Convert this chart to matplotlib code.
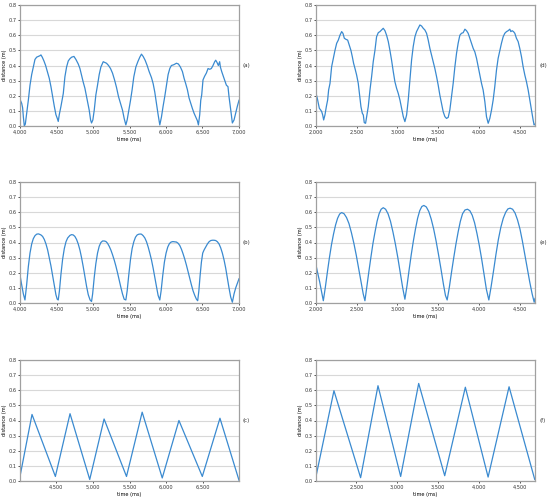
import matplotlib
matplotlib.use("Agg")
import matplotlib.pyplot as plt
from matplotlib.ticker import StrMethodFormatter, MultipleLocator

# ---------------- data ----------------
a_time = [4000, 4023, 4036, 4046, 4059, 4073, 4091, 4114, 4137, 4160,
          4182, 4205, 4228, 4251, 4274, 4287, 4305, 4328, 4351, 4374,
          4401, 4424, 4447, 4470, 4492, 4511, 4524, 4538, 4561, 4593,
          4615, 4638, 4661, 4684, 4707, 4739, 4766, 4798, 4821, 4843,
          4866, 4889, 4921, 4948, 4967, 4980, 4998, 5017, 5039, 5062,
          5085, 5108, 5140, 5163, 5185, 5213, 5240, 5267, 5295, 5322,
          5349, 5377, 5404, 5427, 5450, 5468, 5491, 5514, 5536, 5559,
          5587, 5614, 5641, 5664, 5687, 5714, 5742, 5769, 5801, 5824,
          5846, 5869, 5892, 5915, 5938, 5960, 5983, 6006, 6029, 6052,
          6074, 6106, 6143, 6170, 6197, 6225, 6248, 6270, 6293, 6316,
          6339, 6362, 6384, 6407, 6430, 6444, 6462, 6476, 6489, 6507,
          6530, 6553, 6576, 6599, 6621, 6644, 6667, 6681, 6699, 6717,
          6735, 6745, 6763, 6781, 6804, 6827, 6849, 6863, 6881, 6895,
          6909, 6932, 6954, 6977, 7000]
a_dist = [0.176, 0.15, 0.12, 0.06, 0.0, 0.013, 0.08, 0.17, 0.27, 0.34,
          0.39, 0.44, 0.455, 0.46, 0.465, 0.47, 0.455, 0.43, 0.40, 0.36,
          0.315, 0.26, 0.195, 0.13, 0.075, 0.05, 0.03, 0.075, 0.13, 0.215,
          0.325, 0.39, 0.43, 0.445, 0.455, 0.46, 0.44, 0.41, 0.38, 0.335,
          0.29, 0.25, 0.17, 0.105, 0.04, 0.02, 0.04, 0.105, 0.205, 0.27,
          0.34, 0.39, 0.425, 0.42, 0.415, 0.40, 0.38, 0.35, 0.305, 0.255,
          0.195, 0.15, 0.105, 0.05, 0.007, 0.04, 0.105, 0.17, 0.24, 0.325,
          0.39, 0.425, 0.455, 0.475, 0.46, 0.435, 0.40, 0.36, 0.32, 0.28,
          0.225, 0.15, 0.075, 0.007, 0.06, 0.13, 0.195, 0.27, 0.34, 0.38,
          0.40, 0.405, 0.415, 0.41, 0.39, 0.36, 0.315, 0.28, 0.24, 0.185,
          0.15, 0.115, 0.085, 0.06, 0.035, 0.007, 0.075, 0.17, 0.205, 0.305,
          0.33, 0.35, 0.38, 0.375, 0.38, 0.40, 0.425, 0.435, 0.42, 0.40,
          0.425, 0.39, 0.36, 0.335, 0.305, 0.27, 0.26, 0.195, 0.13, 0.075,
          0.02, 0.04, 0.085, 0.13, 0.17]

b_time = [4000, 4023, 4046, 4068, 4091, 4114, 4137, 4160, 4182, 4205,
          4228, 4251, 4264, 4287, 4310, 4333, 4356, 4379, 4401, 4424,
          4447, 4470, 4492, 4510, 4524, 4540, 4561, 4584, 4607, 4630,
          4653, 4684, 4707, 4729, 4752, 4775, 4798, 4821, 4843, 4866,
          4889, 4912, 4935, 4960, 4980, 4995, 5017, 5039, 5062, 5085,
          5108, 5131, 5154, 5176, 5199, 5222, 5245, 5267, 5290, 5313,
          5336, 5359, 5381, 5404, 5427, 5450, 5468, 5491, 5514, 5536,
          5559, 5582, 5605, 5628, 5650, 5664, 5687, 5710, 5733, 5756,
          5778, 5801, 5824, 5846, 5869, 5892, 5915, 5933, 5955, 5978,
          6001, 6024, 6047, 6070, 6093, 6115, 6143, 6166, 6189, 6212,
          6234, 6257, 6280, 6303, 6325, 6348, 6371, 6394, 6417, 6434,
          6450, 6467, 6485, 6503, 6521, 6544, 6567, 6590, 6613, 6636,
          6658, 6681, 6704, 6727, 6749, 6772, 6795, 6818, 6840, 6863,
          6886, 6909, 6932, 6955, 6977, 7000]
b_dist = [0.185, 0.12, 0.06, 0.02, 0.12, 0.24, 0.33, 0.39, 0.425, 0.445,
          0.455, 0.457, 0.455, 0.45, 0.44, 0.42, 0.39, 0.35, 0.30, 0.245,
          0.18, 0.115, 0.055, 0.025, 0.02, 0.08, 0.19, 0.29, 0.36, 0.405,
          0.43, 0.447, 0.452, 0.45, 0.44, 0.42, 0.39, 0.35, 0.30, 0.24,
          0.175, 0.11, 0.055, 0.02, 0.01, 0.06, 0.17, 0.26, 0.33, 0.375,
          0.40, 0.41, 0.41, 0.407, 0.395, 0.375, 0.35, 0.32, 0.285, 0.245,
          0.20, 0.15, 0.105, 0.06, 0.025, 0.02, 0.08, 0.19, 0.29, 0.36,
          0.405, 0.435, 0.45, 0.455, 0.456, 0.455, 0.445, 0.43, 0.405, 0.37,
          0.33, 0.285, 0.23, 0.17, 0.11, 0.05, 0.02, 0.08, 0.18, 0.27,
          0.33, 0.37, 0.393, 0.403, 0.406, 0.405, 0.403, 0.395, 0.38, 0.355,
          0.325, 0.29, 0.25, 0.205, 0.16, 0.12, 0.08, 0.05, 0.025, 0.015,
          0.08, 0.18, 0.27, 0.33, 0.35, 0.37, 0.39, 0.405, 0.413, 0.415,
          0.415, 0.413, 0.405, 0.39, 0.365, 0.33, 0.285, 0.23, 0.165, 0.10,
          0.04, 0.005, 0.06, 0.10, 0.13, 0.16]

c_time = [4005, 4169, 4488, 4688, 4957, 5153, 5459, 5673, 5947, 6175, 6494, 6735, 6995]
c_dist = [0.03, 0.44, 0.03, 0.445, 0.01, 0.41, 0.03, 0.455, 0.02, 0.40, 0.03, 0.415, 0.005]

d_time = [2000, 2016, 2029, 2041, 2057, 2070, 2082, 2094, 2110, 2127,
          2143, 2155, 2172, 2192, 2213, 2233, 2254, 2274, 2294, 2315,
          2331, 2348, 2368, 2389, 2409, 2429, 2446, 2462, 2479, 2499,
          2519, 2536, 2552, 2569, 2581, 2593, 2609, 2626, 2642, 2663,
          2683, 2703, 2724, 2744, 2765, 2785, 2806, 2826, 2847, 2867,
          2888, 2908, 2928, 2949, 2969, 2990, 3010, 3031, 3051, 3072,
          3092, 3113, 3133, 3153, 3174, 3194, 3215, 3235, 3256, 3276,
          3297, 3317, 3337, 3358, 3378, 3399, 3419, 3440, 3460, 3481,
          3501, 3521, 3542, 3562, 3583, 3603, 3624, 3644, 3665, 3685,
          3706, 3726, 3746, 3767, 3787, 3808, 3829, 3849, 3869, 3890,
          3910, 3931, 3951, 3972, 3992, 4012, 4033, 4053, 4074, 4094,
          4115, 4135, 4156, 4176, 4196, 4217, 4237, 4258, 4278, 4299,
          4319, 4340, 4360, 4381, 4393, 4409, 4426, 4442, 4462, 4483,
          4503, 4524, 4544, 4565, 4585, 4606, 4626, 4647, 4667, 4679,
          4687]
d_dist = [0.216, 0.183, 0.15, 0.117, 0.106, 0.095, 0.073, 0.04, 0.073, 0.128,
          0.172, 0.238, 0.282, 0.392, 0.447, 0.50, 0.547, 0.568, 0.60, 0.624,
          0.613, 0.58, 0.573, 0.568, 0.535, 0.50, 0.458, 0.414, 0.38, 0.337,
          0.282, 0.205, 0.128, 0.084, 0.073, 0.022, 0.018, 0.073, 0.128, 0.238,
          0.326, 0.425, 0.50, 0.59, 0.617, 0.624, 0.635, 0.646, 0.63, 0.60,
          0.558, 0.50, 0.436, 0.36, 0.293, 0.249, 0.216, 0.172, 0.117, 0.062,
          0.029, 0.073, 0.172, 0.304, 0.436, 0.525, 0.59, 0.624, 0.646, 0.668,
          0.661, 0.646, 0.635, 0.613, 0.569, 0.513, 0.469, 0.425, 0.38, 0.326,
          0.27, 0.205, 0.15, 0.095, 0.062, 0.05, 0.057, 0.106, 0.194, 0.282,
          0.392, 0.48, 0.547, 0.60, 0.613, 0.617, 0.64, 0.63, 0.613, 0.58,
          0.547, 0.513, 0.49, 0.447, 0.392, 0.337, 0.282, 0.238, 0.161, 0.062,
          0.018, 0.05, 0.106, 0.172, 0.26, 0.37, 0.447, 0.50, 0.547, 0.59,
          0.613, 0.624, 0.63, 0.64, 0.624, 0.63, 0.624, 0.613, 0.58, 0.558,
          0.513, 0.458, 0.392, 0.337, 0.293, 0.238, 0.172, 0.106, 0.04, 0.007,
          0.011]

e_time = [2000, 2020, 2045, 2070, 2090, 2115, 2140, 2165, 2190, 2215,
          2240, 2265, 2290, 2315, 2345, 2375, 2405, 2435, 2465, 2495,
          2525, 2555, 2580, 2601, 2625, 2650, 2675, 2700, 2725, 2750,
          2775, 2800, 2826, 2855, 2885, 2915, 2945, 2975, 3005, 3035,
          3065, 3092, 3118, 3144, 3170, 3196, 3222, 3248, 3274, 3300,
          3325, 3355, 3385, 3415, 3445, 3475, 3505, 3535, 3565, 3590,
          3611, 3638, 3665, 3692, 3719, 3746, 3773, 3800, 3830, 3861,
          3890, 3919, 3948, 3977, 4006, 4035, 4064, 4093, 4123, 4150,
          4180, 4210, 4240, 4270, 4300, 4330, 4357, 4384, 4415, 4445,
          4475, 4505, 4535, 4565, 4595, 4625, 4655, 4680, 4690]
e_dist = [0.25, 0.20, 0.14, 0.07, 0.015, 0.105, 0.205, 0.30, 0.385, 0.455,
          0.515, 0.56, 0.588, 0.598, 0.59, 0.565, 0.525, 0.465, 0.395, 0.315,
          0.225, 0.135, 0.06, 0.015, 0.11, 0.21, 0.305, 0.395, 0.47, 0.54,
          0.59, 0.62, 0.63, 0.62, 0.59, 0.54, 0.47, 0.39, 0.30, 0.20,
          0.10, 0.025, 0.115, 0.22, 0.32, 0.41, 0.49, 0.56, 0.61, 0.638,
          0.645, 0.635, 0.605, 0.555, 0.49, 0.41, 0.32, 0.225, 0.125, 0.05,
          0.02, 0.105, 0.205, 0.30, 0.39, 0.47, 0.54, 0.59, 0.615, 0.62,
          0.61, 0.58, 0.53, 0.46, 0.38, 0.29, 0.19, 0.09, 0.02, 0.105,
          0.21, 0.32, 0.42, 0.50, 0.56, 0.60, 0.622, 0.627, 0.62, 0.595,
          0.55, 0.49, 0.41, 0.32, 0.23, 0.14, 0.06, 0.005, 0.03]

f_time = [2005, 2225, 2552, 2765, 3043, 3264, 3583, 3836, 4115, 4372, 4687]
f_dist = [0.03, 0.597, 0.022, 0.63, 0.03, 0.645, 0.035, 0.62, 0.026, 0.623, 0.01]

panel_labels = ["(a)", "(b)", "(c)", "(d)", "(e)", "(f)"]
y_label = "distance (m)"
x_label = "time (ms)"

# ---------------- figure ----------------
W, H = 550, 497
fig = plt.figure(figsize=(W / 100, H / 100), dpi=100)

line_color = "#3a8ad0"
spine_color = "#a0a0a0"
grid_color = "#d8d8d8"
fs = 3.6


def make_axes(px_left, px_top, px_w=219, px_h=121):
    return fig.add_axes([px_left / W, 1 - (px_top + px_h) / H, px_w / W, px_h / H])


panels = [
    (make_axes(20, 5), a_time, a_dist, (4000, 7000), panel_labels[0], 1.015),
    (make_axes(20, 182), b_time, b_dist, (4000, 7000), panel_labels[1], 1.015),
    (make_axes(20, 360), c_time, c_dist, (4005, 6995), panel_labels[2], 1.015),
    (make_axes(316, 5), d_time, d_dist, (2000, 4690), panel_labels[3], 1.022),
    (make_axes(316, 182), e_time, e_dist, (2000, 4690), panel_labels[4], 1.022),
    (make_axes(316, 360), f_time, f_dist, (2005, 4690), panel_labels[5], 1.022),
]

for ax, t, d, xl, lab, lx in panels:
    ax.plot(t, d, color=line_color, lw=0.9)
    ax.set_xlim(*xl)
    ax.set_ylim(0, 0.8)
    ax.yaxis.set_major_locator(MultipleLocator(0.1))
    ax.xaxis.set_major_locator(MultipleLocator(500))
    ax.xaxis.set_major_formatter(StrMethodFormatter("{x:,.0f}"))
    ax.yaxis.set_major_formatter(StrMethodFormatter("{x:.1f}"))
    ax.grid(axis="y", color=grid_color, lw=0.8)
    ax.set_axisbelow(True)
    for s in ax.spines.values():
        s.set_color(spine_color)
        s.set_linewidth(0.9)
    ax.tick_params(labelsize=fs, length=1.5, width=0.6, pad=1.0, colors="#333333")
    ax.set_ylabel(y_label, fontsize=fs)
    ax.yaxis.set_label_coords(-0.058, 0.5)
    ax.set_xlabel(x_label, fontsize=fs, labelpad=1.5)
    ax.text(lx, 0.5, lab, transform=ax.transAxes, fontsize=fs + 0.4,
            va="center", ha="left", color="#333333")

fig.savefig("out.png", dpi=100)
